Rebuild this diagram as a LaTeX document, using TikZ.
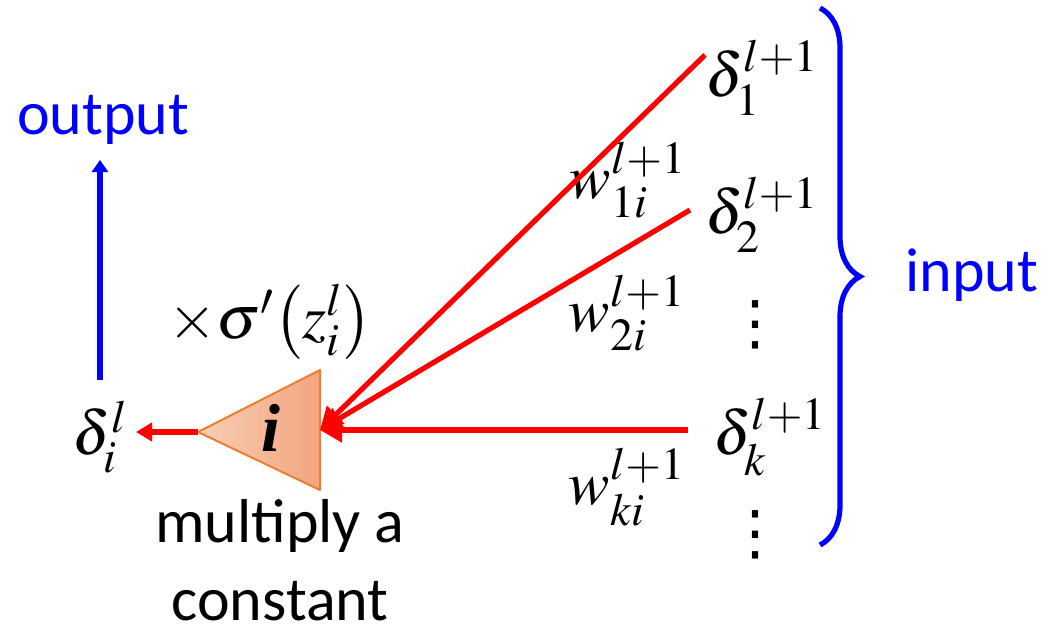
\documentclass[tikz,border=0pt]{standalone}
\usepackage{mathptmx}
\usepackage{fontspec}
\setmainfont{Carlito}
\newfontfamily\timesfont{Liberation Serif}
\newfontfamily\dotfont{DejaVu Sans}
\usetikzlibrary{arrows.meta,decorations.pathreplacing}
\definecolor{netred}{RGB}{255,0,0}
\definecolor{netblue}{RGB}{0,0,255}
\definecolor{triedge}{RGB}{237,125,49}
\definecolor{trilight}{RGB}{248,206,180}
\definecolor{tridark}{RGB}{243,165,128}

\begin{document}
\begin{tikzpicture}[x=0.5pt, y=-0.5pt, font=\fontsize{31}{37}\selectfont,
  sig/.style={netred, line width=2.6pt, -{Triangle[length=11pt,width=12pt]}},
  back/.style={netred, line width=2.6pt, -{Triangle[length=8pt,width=9pt]}},
  up/.style={netblue, line width=2.6pt, -{Triangle[length=6pt,width=8pt]}},
  lbl/.style={inner sep=0pt},
  dots/.style={inner sep=0pt, font=\dotfont\fontsize{30}{34}\selectfont},
  word/.style={inner sep=0pt, font=\fontsize{31}{37}\selectfont}]
\useasboundingbox (0,0) rectangle (1048,627);
% the neuron
\coordinate (tip) at (198,432);
\coordinate (top) at (320,370);
\coordinate (bot) at (320,490);
\coordinate (in) at (320,430);
\shade[left color=trilight, right color=tridark] (tip) -- (top) -- (bot) -- cycle;
\draw[triedge, line width=1pt, line join=round] (tip) -- (top) -- (bot) -- cycle;
\node[lbl] (unit) at (271,428) {\timesfont\bfseries\itshape\fontsize{34}{38}\selectfont i};
% incoming deltas
\coordinate (s1) at (705,55);
\coordinate (s2) at (690,210);
\coordinate (sk) at (688,430);
\node[lbl] (d1) at (762,78) {$\delta_1^{l+1}$};
\node[lbl] (d2) at (762,215) {$\delta_2^{l+1}$};
\node[dots] (dd1) at (755,325) {⋮};
\node[lbl] (dk) at (770,437) {$\delta_k^{l+1}$};
\node[dots] (dd2) at (755,535) {⋮};
\node[lbl] (w1) at (628,180) {$w_{1i}^{l+1}$};
\node[lbl] (w2) at (627,313) {$w_{2i}^{l+1}$};
\node[lbl] (wk) at (627,487) {$w_{ki}^{l+1}$};
\draw[sig] (s1) -- (in);
\draw[sig] (s2) -- (in);
\draw[sig] (sk) -- (in);
% outgoing delta
\coordinate (outend) at (136,432);
\draw[back] (tip) -- (outend);
\node[lbl] (di) at (100,437) {$\delta_i^l$};
\coordinate (upfoot) at (100,380);
\coordinate (uphead) at (100,160);
\draw[up] (upfoot) -- (uphead);
\node[word, text=netblue] (out) at (103,120) {output};
\node[lbl] (fac) at (270,322) {$\times\sigma'\!\left(z_i^l\right)$};
\node[word, align=center] (note) at (280,560) {multiply a\\[2pt]constant};
% brace
\coordinate (bra) at (820,8);
\coordinate (brb) at (820,545);
\draw[netblue, line width=2.6pt, decorate,
  decoration={brace, amplitude=20pt}] (bra) -- (brb);
\node[word, text=netblue] (inp) at (972,275) {input};
\end{tikzpicture}
\end{document}
